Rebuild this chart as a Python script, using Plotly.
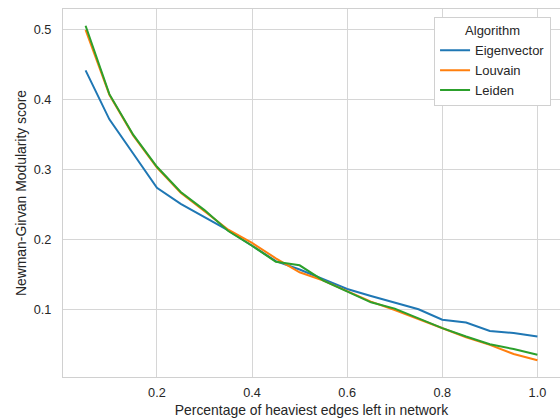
import plotly.graph_objects as go

x_frac = [0.05, 0.10, 0.15, 0.20, 0.25, 0.30, 0.35, 0.40, 0.45, 0.50,
          0.55, 0.60, 0.65, 0.70, 0.75, 0.80, 0.85, 0.90, 0.95, 1.00]
eigenvector = [0.442, 0.372, 0.323, 0.274, 0.251, 0.232, 0.213, 0.191, 0.169, 0.157,
               0.143, 0.129, 0.119, 0.109, 0.100, 0.085, 0.081, 0.069, 0.066, 0.061]
louvain = [0.500, 0.407, 0.349, 0.303, 0.267, 0.241, 0.214, 0.195, 0.173, 0.153,
           0.141, 0.126, 0.111, 0.099, 0.086, 0.073, 0.060, 0.049, 0.036, 0.027]
leiden = [0.506, 0.408, 0.350, 0.304, 0.268, 0.242, 0.212, 0.191, 0.168, 0.163,
          0.141, 0.125, 0.110, 0.101, 0.087, 0.073, 0.061, 0.050, 0.043, 0.035]

series_names = ["Eigenvector", "Louvain", "Leiden"]
series_vals = [eigenvector, louvain, leiden]
colors = ["#1f77b4", "#ff7f0e", "#2ca02c"]

x_ticks = [0.2, 0.4, 0.6, 0.8, 1.0]
y_ticks = [0.1, 0.2, 0.3, 0.4, 0.5]

fig = go.Figure()
for name, vals, c in zip(series_names, series_vals, colors):
    fig.add_trace(go.Scatter(x=x_frac, y=vals, mode="lines", name=name,
                             line=dict(color=c, width=2)))

allv = [v for s in series_vals for v in s]
ymin, ymax = min(allv), max(allv)
ypad = (ymax - ymin) * 0.05
xmin, xmax = min(x_frac), max(x_frac)
xpad = (xmax - xmin) * 0.05

font_family = "Liberation Sans, Arial, sans-serif"
text_color = "#262626"

fig.update_layout(
    width=560, height=418,
    margin=dict(l=63, r=0, t=9, b=41),
    paper_bgcolor="white", plot_bgcolor="white",
    font=dict(family=font_family, color=text_color, size=12.7),
    legend=dict(
        title=dict(text="Algorithm", side="top center", font=dict(size=13)),
        font=dict(size=13),
        x=0.982, xanchor="right", y=0.977, yanchor="top",
        bgcolor="white", bordercolor="#d0d0d0", borderwidth=1,
    ),
    xaxis=dict(
        range=[xmin - xpad, xmax + xpad],
        tickvals=x_ticks, ticktext=[f"{t:.1f}" for t in x_ticks],
        showgrid=True, gridcolor="#d6d6d6", gridwidth=1.2,
        showline=True, mirror=True, linecolor="#d0d0d0", linewidth=1.2,
        zeroline=False, ticks="outside", ticklen=4, tickcolor="rgba(0,0,0,0)",
        tickfont=dict(size=12.7, color=text_color),
        title=dict(text="Percentage of heaviest edges left in network",
                   font=dict(size=13.9, color=text_color), standoff=5),
        automargin=False,
    ),
    yaxis=dict(
        range=[ymin - ypad, ymax + ypad],
        tickvals=y_ticks, ticktext=[f"{t:.1f}" for t in y_ticks],
        showgrid=True, gridcolor="#d6d6d6", gridwidth=1.2,
        showline=True, mirror=True, linecolor="#d0d0d0", linewidth=1.2,
        zeroline=False, ticks="outside", ticklen=8, tickcolor="rgba(0,0,0,0)",
        tickfont=dict(size=12.7, color=text_color),
        title=dict(text="Newman-Girvan Modularity score",
                   font=dict(size=13.9, color=text_color), standoff=3),
        automargin=False,
    ),
)

fig.write_html("out.html")
